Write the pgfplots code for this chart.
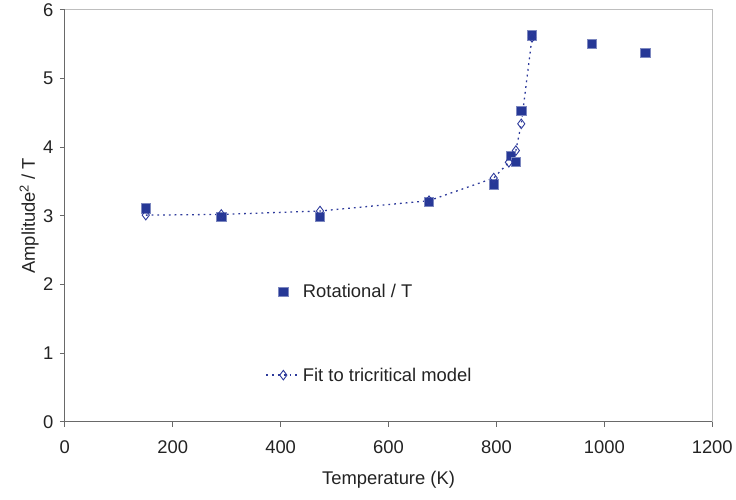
\documentclass[border=0pt]{standalone}
\usepackage{pgfplots}
\pgfplotsset{compat=1.18}
\usepackage{fontspec}
\setmainfont{Liberation Sans}
\definecolor{dblue}{RGB}{38,56,150}
\definecolor{lblue}{RGB}{45,58,155}
\definecolor{axgray}{RGB}{105,105,105}
\definecolor{frgray}{RGB}{190,190,190}
\definecolor{txt}{RGB}{35,35,35}
\begin{document}
\begin{tikzpicture}[x=1bp,y=1bp]
\begin{axis}[
  scale only axis,
  width=649bp, height=413bp,
  xmin=0, xmax=1200, ymin=0, ymax=6,
  xtick={0,200,...,1200}, ytick={0,1,...,6},
  axis lines=left,
  axis line style={axgray, -, line width=1.2pt},
  tick style={axgray, line width=1pt},
  tick align=outside,
  major tick length=5bp,
  xtick pos=left, ytick pos=left,
  ticklabel style={font=\fontsize{18.5}{20}\selectfont, text=txt},
  xticklabel style={yshift=-10bp},
  yticklabel style={xshift=-3bp},
  /pgf/number format/assume math mode=true,
  /pgf/number format/1000 sep={},
  xlabel={Temperature (K)},
  ylabel={Amplitude\textsuperscript{2} / T},
  label style={font=\fontsize{18.5}{20}\selectfont, text=txt},
  xlabel style={at={(axis description cs:0.5,0)}, anchor=base, yshift=-63bp},
  ylabel style={at={(axis description cs:0,0.5)}, anchor=base, yshift=30bp},
  legend image code/.code={\draw[mark repeat=2,mark phase=2,#1] plot coordinates {(0bp,0bp)(17bp,0bp)(34bp,0bp)};},
  legend style={draw=none, fill=none, at={(axis cs:372,2.03)}, anchor=north west,
    font=\fontsize{18.5}{20}\selectfont, row sep=64.5bp, text=txt, inner sep=0pt,
    /tikz/every even column/.append style={column sep=0bp}},
  legend cell align=left,
  clip=false,
]
\draw[frgray, line width=0.8pt] (rel axis cs:0,1) -- (rel axis cs:1,1) -- (rel axis cs:1,0);
\addplot[only marks, mark=square*, mark size=4.6bp, dblue, mark options={fill=dblue, draw=dblue!60!white, line width=0.6pt}]
coordinates {
(150,3.11) (290,2.98) (473,2.98) (675,3.20) (795,3.46) (826,3.87) (836,3.79) (846,4.53) (866,5.63) (976,5.51) (1076,5.37)
};
\addlegendentry{Rotational / T}
\addplot[lblue, dash pattern=on 1.8bp off 4bp, line width=1.3pt, mark=diamond, mark size=4.8bp, mark options={solid, line width=0.9pt, fill=white}]
coordinates {
(150,3.01) (290,3.02) (473,3.07) (675,3.22) (795,3.55) (823,3.78) (836,3.95) (846,4.34) (866,5.60)
};
\addlegendentry{Fit to tricritical model}
\end{axis}
\path (current axis.south west) ++(-65bp,-78bp) rectangle ++(736bp,499bp);
\end{tikzpicture}
\end{document}
